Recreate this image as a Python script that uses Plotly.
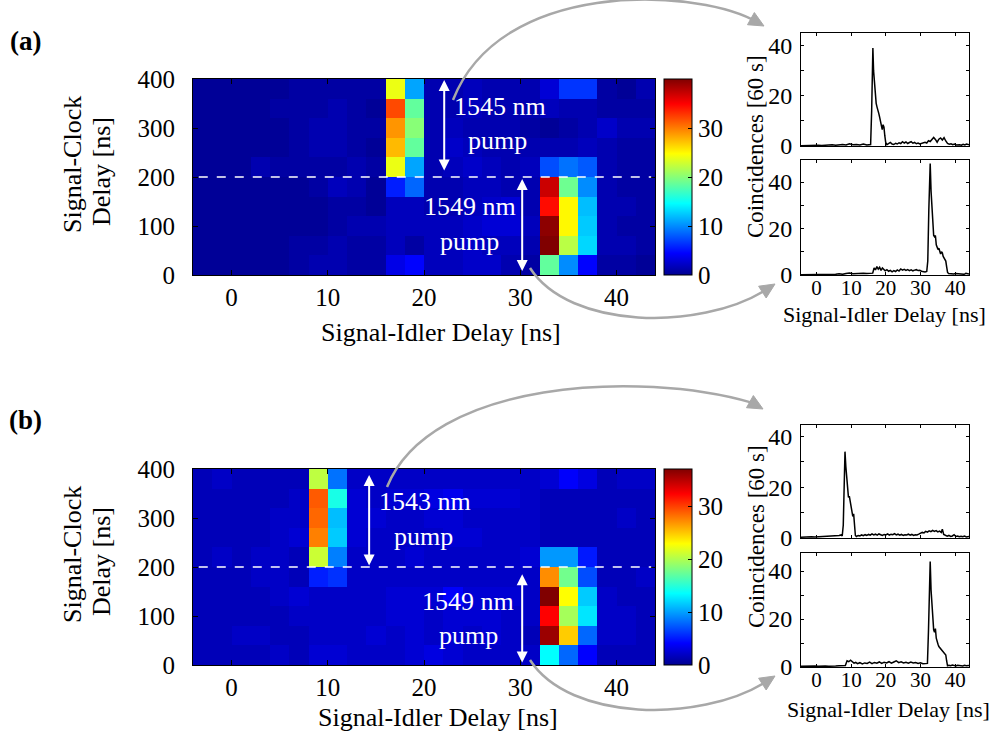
import plotly.graph_objects as go

W, H = 994, 740
FONT = "Liberation Serif, Times New Roman, serif"


def px(x):
    return x / W


def py(y):
    return 1 - y / H


# ---------------- data ----------------
# heatmap bins (ns)
si_bins = [-3, -1, 1, 3, 5, 7, 9, 11, 13, 15, 17, 19, 21, 23, 25, 27, 29, 31, 33, 35, 37, 39, 41, 43]
sc_bins = [380, 340, 300, 260, 220, 180, 140, 100, 60, 20]

counts_a = [
    [0.3, 0.3, 0.3, 0.3, 0.3, 0.8, 0.8, 0.8, 0.8, 0.8, 24, 11, 1.3, 1.3, 1.8, 1.3, 1.3, 1.3, 2.8, 6.5, 6.5, 0.8, 0.3, 1.3],
    [0.3, 0.3, 0.3, 0.3, 0.8, 0.8, 0.8, 1.3, 0.8, 0.3, 32, 18.5, 1.3, 1.3, 1.8, 1.3, 1.3, 1.3, 1.8, 1.3, 1.3, 0.8, 0.8, 0.8],
    [0.3, 0.3, 0.3, 0.3, 0.3, 0.8, 1.3, 1.3, 0.8, 0.8, 29, 20, 1.3, 1.8, 1.3, 1.3, 1.3, 0.8, 0.3, 0.8, 1.3, 2.3, 1.3, 1.3],
    [0.3, 0.3, 0.3, 0.3, 0.3, 0.8, 1.3, 1.3, 0.8, 0.3, 27.5, 18.5, 1.3, 2.3, 1.8, 1.3, 1.3, 1.3, 1.3, 1.3, 1.8, 1.3, 0.8, 0.8],
    [0.3, 0.3, 0.3, 1.3, 0.8, 0.8, 0.8, 0.8, 1.3, 0.8, 24, 11, 1.3, 1.8, 2.3, 1.8, 1.3, 1.8, 7.5, 9, 8, 1.3, 0.8, 0.8],
    [0.3, 0.3, 0.3, 0.3, 0.3, 0.3, 0.8, 1.8, 1.3, 0.3, 5.6, 8.5, 1.3, 1.3, 1.8, 1.8, 1.3, 1.3, 37, 19, 10, 1.3, 0.8, 0.8],
    [0.3, 0.3, 0.3, 0.3, 0.3, 0.3, 0.3, 0.8, 0.8, 0.3, 1.8, 1.8, 1.3, 1.3, 1.8, 2.3, 2.8, 1.3, 34.5, 25, 12, 1.3, 1.3, 0.8],
    [0.3, 0.3, 0.3, 0.3, 0.3, 0.3, 0.3, 0.8, 1.3, 1.3, 1.8, 1.8, 1.8, 1.8, 2.3, 2.8, 2.8, 1.8, 39.5, 25, 12.5, 1.3, 0.8, 0.8],
    [0.3, 0.3, 0.3, 0.3, 0.3, 0.8, 0.8, 1.3, 0.8, 0.8, 1.8, 0.8, 1.8, 1.8, 2.3, 1.8, 1.8, 1.3, 40, 22, 13, 1.3, 1.3, 0.8],
    [0.3, 0.3, 0.3, 0.3, 0.3, 0.8, 1.3, 1.3, 0.8, 0.8, 3.5, 4.5, 1.8, 1.8, 2.3, 2.3, 1.3, 0.8, 18.5, 10, 4.5, 0.8, 0.8, 0.3],
]

counts_b = [
    [1.5, 2, 1.5, 1.5, 1.5, 1.5, 20.5, 8.3, 2, 2, 2, 2, 2, 2, 2, 2, 2, 2, 2.5, 4, 3, 1.5, 2, 2],
    [1.5, 1.5, 1.5, 1.5, 1.5, 2, 29, 14.4, 2.5, 2, 2.5, 2.5, 3, 3.5, 2.5, 2.5, 2.5, 2, 1.5, 1.5, 1.5, 1.5, 1.5, 1.5],
    [1.5, 1.5, 1.5, 1.5, 2, 2, 28.5, 11.1, 2.5, 2.5, 2, 2, 2.5, 2.5, 2, 2, 2, 2, 1.5, 1.5, 1.5, 1.5, 2, 1.5],
    [1.5, 1.5, 1.5, 1.5, 2, 2.5, 27.6, 11.6, 2.5, 2, 2, 2, 2, 2.5, 2.5, 2, 2, 2, 1.5, 1.5, 1.5, 1.5, 1.5, 1.5],
    [1.5, 2, 1.5, 2, 2, 1.5, 21, 8.8, 2, 2, 2, 2.5, 2, 2, 2, 2, 2, 2.5, 9.7, 9.7, 5, 1.5, 1.5, 1.5],
    [1.5, 1.5, 1.5, 2, 2, 1.5, 5.2, 5.9, 2, 2, 2, 2, 2, 2, 2, 2, 2, 2, 27.1, 17.7, 6.9, 1.5, 1.5, 2],
    [1.5, 1.5, 1.5, 1.5, 2, 2.5, 2, 2, 2, 2, 2.5, 2.5, 2.5, 4, 2.5, 2.5, 2.5, 2, 37, 22.9, 11.6, 2, 1.5, 1.5],
    [1.5, 1.5, 1.5, 1.5, 1.5, 2, 2, 2, 2, 2, 2.5, 2.5, 2, 2.5, 2.5, 2.5, 2, 2, 32.3, 19.6, 12.6, 2, 2, 1.5],
    [1.5, 1.5, 2, 2, 1.5, 1.5, 2, 2, 2, 2.5, 2, 2.5, 2, 2.5, 2, 2.5, 2, 1.5, 36, 24.8, 7.9, 2, 2, 1.5],
    [1.5, 1.5, 1.5, 1.5, 2, 1.5, 2.5, 2.5, 2, 2, 2, 2.5, 3, 2.5, 2, 2, 2, 2, 13.5, 7.9, 4.1, 1.5, 1.5, 1.5],
]

# histograms (coincidences per 60 s vs signal-idler delay)
a_top_x = [-4.5, -3.5, -2.5, -1.5, -0.5, 0.5, 1.5, 2.5, 3.5, 4.5,
           5.5, 6.5, 7.5, 8.5, 9.5, 10.5, 11.5, 12.5, 13.5, 14.5,
           15.2, 15.6, 15.9, 16.1, 16.25, 16.45, 16.7, 16.95, 17.2, 17.45,
           17.7, 17.95, 18.2, 18.45, 18.7, 18.95, 19.2, 19.45, 19.7, 19.95,
           20.3, 20.8, 21.3, 21.8, 22.3, 22.8, 23.3, 23.8, 24.3, 24.8,
           25.3, 25.8, 26.3, 26.8, 27.3, 27.8, 28.3, 28.8, 29.3, 29.8,
           30.3, 30.8, 31.3, 31.8, 32.3, 32.8, 33.3, 33.8, 34.3, 34.8,
           35.3, 35.8, 36.3, 36.8, 37.3, 37.8, 38.3, 38.8, 39.3, 39.8,
           40.3, 40.8, 41.3, 41.8, 42.3, 42.8, 43.3, 44.0]
a_top_y = [0.1, 0.2, 0.1, 0.3, 0.2, 0.3, 0.2, 0.4, 0.3, 0.5,
           0.3, 0.4, 0.6, 0.4, 0.9, 0.5, 0.6, 0.4, 0.8, 0.4,
           0.5, 0.6, 14, 32, 39, 30, 25, 21, 17, 15.5,
           14.5, 13, 11.5, 10, 8, 6.5, 8.5, 7.5, 4, 1.5,
           0.5, 0.8, 1.4, 0.8, 0.6, 1.1, 0.8, 1.3, 1.0, 1.7,
           1.2, 1.6, 1.0, 1.4, 1.7, 1.1, 1.4, 0.9, 1.2, 0.8,
           1.0, 1.3, 1.5, 1.2, 2.1, 1.8, 2.8, 3.4, 2.6, 1.5,
           2.7, 3.2, 2.4, 3.3, 2.0, 1.0, 0.7, 0.9, 0.5, 0.8,
           0.4, 0.6, 0.5, 0.3, 0.7, 0.4, 0.8, 0.5]

a_bot_x = [-4.5, -3.5, -2.5, -1.5, -0.5, 0.5, 1.5, 2.5, 3.5, 4.5,
           5.5, 6.5, 7.5, 8.5, 9.5, 10.5, 11.5, 12.5, 13.5, 14.5,
           15.5, 16.2, 16.6, 17.0, 17.4, 17.8, 18.2, 18.6, 19.0, 19.4,
           19.8, 20.3, 20.8, 21.3, 21.8, 22.3, 22.8, 23.3, 23.8, 24.3,
           24.8, 25.3, 25.8, 26.3, 26.8, 27.3, 27.8, 28.3, 28.8, 29.3,
           29.8, 30.3, 30.8, 31.3, 31.8, 32.1, 32.4, 32.6, 32.8, 33.05,
           33.3, 33.55, 33.8, 34.05, 34.3, 34.55, 34.8, 35.05, 35.3, 35.55,
           35.8, 36.05, 36.3, 36.55, 36.8, 37.05, 37.3, 37.55, 37.8, 38.1,
           38.6, 39.1, 39.6, 40.1, 40.6, 41.1, 41.6, 42.1, 42.6, 43.1, 44.0]
a_bot_y = [0.1, 0.1, 0.2, 0.1, 0.2, 0.3, 0.2, 0.3, 0.2, 0.4,
           0.3, 0.5, 0.3, 0.6, 0.9, 0.5, 0.7, 0.6, 0.8, 0.6,
           0.7, 0.8, 3.0, 2.2, 3.6, 2.5, 3.3, 2.0, 3.0, 2.4,
           1.8, 2.3, 1.6, 2.0, 1.4, 1.9, 1.5, 2.2, 1.7, 2.6,
           2.1, 2.4, 2.0, 2.3, 1.9, 2.2, 1.8, 2.1, 2.3, 1.9,
           2.0, 1.6, 1.4, 1.3, 1.5, 6, 28, 42, 48, 36,
           28, 22, 17, 16.5, 17, 13, 12, 11, 11.5, 9.5,
           9, 10, 9.5, 8, 7.5, 6.5, 6, 3.5, 1.2, 0.6,
           0.5, 0.7, 0.4, 0.6, 0.5, 0.4, 0.6, 0.5, 0.3, 0.7, 0.4]

b_top_x = [-4.5, -3.5, -2.5, -1.5, -0.5, 0.5, 1.5, 2.5, 3.5, 4.5,
           5.5, 6.5, 7.1, 7.4, 7.7, 7.95, 8.2, 8.45, 8.7, 8.95,
           9.2, 9.45, 9.7, 9.95, 10.2, 10.45, 10.7, 10.95, 11.2, 11.5,
           12.0, 12.5, 13.0, 13.5, 14.0, 14.5, 15.0, 15.5, 16.0, 16.5,
           17.0, 17.5, 18.0, 18.5, 19.0, 19.5, 20.0, 20.5, 21.0, 21.5,
           22.0, 22.5, 23.0, 23.5, 24.0, 24.5, 25.0, 25.5, 26.0, 26.5,
           27.0, 27.5, 28.0, 28.5, 29.0, 29.5, 30.0, 30.5, 31.0, 31.5,
           32.0, 32.5, 33.0, 33.5, 34.0, 34.5, 35.0, 35.5, 36.0, 36.3,
           36.7, 37.2, 37.7, 38.2, 38.7, 39.2, 39.7, 40.2, 40.7, 41.2,
           41.7, 42.2, 42.7, 43.2, 44.0]
b_top_y = [0.3, 0.4, 0.3, 0.5, 0.4, 0.5, 0.4, 0.6, 0.5, 0.7,
           0.8, 1.0, 1.2, 0.8, 5, 24, 34, 28, 23, 19,
           16, 16.5, 14.5, 12.5, 11, 8.5, 9.5, 4, 1.0, 0.6,
           1.0, 0.8, 1.2, 0.9, 1.3, 1.0, 1.4, 1.1, 1.6, 1.2,
           1.5, 1.1, 1.6, 1.3, 1.0, 1.4, 1.2, 1.6, 1.1, 1.5,
           1.3, 1.7, 1.2, 1.5, 1.1, 1.4, 1.0, 1.3, 1.2, 1.5,
           1.1, 1.4, 1.0, 1.3, 1.2, 1.5, 1.8, 2.2, 2.0, 2.6,
           2.3, 2.8, 2.5, 3.0, 2.6, 2.9, 2.4, 2.7, 2.2, 3.5,
           1.4, 0.9, 0.7, 1.0, 0.6, 0.8, 1.3, 0.6, 0.8, 0.5,
           0.7, 0.5, 0.8, 0.4, 0.6]

b_bot_x = [-4.5, -3.5, -2.5, -1.5, -0.5, 0.5, 1.5, 2.5, 3.5, 4.5,
           5.5, 6.5, 7.5, 8.3, 8.8, 9.3, 9.8, 10.3, 10.8, 11.3,
           11.8, 12.5, 13.2, 13.9, 14.6, 15.3, 16.0, 16.7, 17.4, 18.1,
           18.8, 19.5, 20.2, 20.9, 21.6, 22.3, 23.0, 23.7, 24.4, 25.1,
           25.8, 26.5, 27.2, 27.9, 28.6, 29.3, 30.0, 30.7, 31.4, 32.0,
           32.3, 32.55, 32.8, 33.05, 33.3, 33.55, 33.8, 34.05, 34.3, 34.55,
           34.8, 35.05, 35.3, 35.55, 35.8, 36.05, 36.3, 36.55, 36.8, 37.05,
           37.3, 37.55, 37.8, 38.2, 38.7, 39.2, 39.7, 40.2, 40.7, 41.2,
           41.7, 42.2, 42.7, 43.2, 44.0]
b_bot_y = [0.3, 0.4, 0.3, 0.5, 0.4, 0.3, 0.5, 0.4, 0.3, 0.5,
           0.4, 0.5, 0.4, 0.6, 2.6, 2.2, 2.8, 2.3, 1.6, 1.9,
           1.4, 1.8, 1.3, 1.7, 1.5, 2.0, 1.4, 1.9, 1.6, 2.1,
           1.5, 2.0, 1.7, 2.2, 1.6, 2.1, 2.6, 1.8, 2.2, 1.7,
           2.0, 1.6, 2.1, 1.7, 1.9, 1.5, 1.8, 1.4, 1.6, 1.5,
           15, 36, 44, 32, 25, 21, 15.5, 14.5, 16, 12,
           10, 9.5, 8.5, 8, 7.5, 7, 7, 6.5, 6, 5.5,
           5, 2.5, 0.5, 0.7, 0.5, 0.8, 0.6, 0.4, 0.7, 0.5,
           0.6, 0.4, 0.7, 0.5, 0.6]

heat_ticks_x = [0, 10, 20, 30, 40]
heat_ticks_y = [0, 100, 200, 300, 400]
cbar_ticks = [0, 10, 20, 30]
hist_ticks_y = [0, 10, 20, 30, 40]
hist_ticktext_y = ["0", "", "20", "", "40"]

# MATLAB "jet" (64 levels) anchor colours
JET = [
    [0.0, "rgb(0,0,143)"],
    [0.111, "rgb(0,0,255)"],
    [0.365, "rgb(0,255,255)"],
    [0.619, "rgb(255,255,0)"],
    [0.873, "rgb(255,0,0)"],
    [1.0, "rgb(128,0,0)"],
]

# ---------------- geometry (pixels) ----------------
HX = (193, 655)
HA_Y = (79, 275)
HB_Y = (469, 665)
SX = (801, 969)
SA1_Y = (33, 146)
SA2_Y = (160, 275)
SB1_Y = (425, 538)
SB2_Y = (553, 667)


def dom_x(p):
    return [px(p[0]), px(p[1])]


def dom_y(p):
    return [py(p[1]), py(p[0])]


fig = go.Figure()


def cbar(ypix):
    return dict(
        x=px(664), xanchor="left", xpad=0,
        y=py((ypix[0] + ypix[1]) / 2), yanchor="middle", ypad=0,
        lenmode="pixels", len=ypix[1] - ypix[0],
        thicknessmode="pixels", thickness=28,
        outlinecolor="black", outlinewidth=1,
        tickvals=cbar_ticks, ticks="inside", ticklen=4, tickcolor="black",
        tickfont=dict(family=FONT, size=25, color="black"),
    )


fig.add_trace(go.Heatmap(
    x=si_bins, y=sc_bins, z=counts_a, colorscale=JET, zmin=0, zmax=40,
    xaxis="x", yaxis="y", colorbar=cbar(HA_Y), hoverinfo="skip"))
fig.add_trace(go.Heatmap(
    x=si_bins, y=sc_bins, z=counts_b, colorscale=JET, zmin=0, zmax=37,
    xaxis="x2", yaxis="y2", colorbar=cbar(HB_Y), hoverinfo="skip"))

for xs, ys, ax in [(a_top_x, a_top_y, "3"), (a_bot_x, a_bot_y, "4"),
                   (b_top_x, b_top_y, "5"), (b_bot_x, b_bot_y, "6")]:
    fig.add_trace(go.Scatter(x=xs, y=ys, mode="lines",
                             line=dict(color="black", width=1.5),
                             xaxis="x" + ax, yaxis="y" + ax, showlegend=False,
                             hoverinfo="skip"))

axcommon = dict(showline=True, linecolor="black", linewidth=1, mirror="ticks",
                ticks="inside", ticklen=5, tickcolor="black", showgrid=False,
                zeroline=False, tickfont=dict(family=FONT, size=25, color="black"),
                automargin=False)

layout = dict(
    width=W, height=H, margin=dict(l=0, r=0, t=0, b=0),
    paper_bgcolor="white", plot_bgcolor="white", showlegend=False,
    font=dict(family=FONT, color="black"),
)

# heatmap axes
for i, yp in [("", HA_Y), ("2", HB_Y)]:
    layout["xaxis" + i] = dict(axcommon, domain=dom_x(HX), anchor="y" + i,
                               range=[-4, 44], tickvals=heat_ticks_x,
                               ticklabelstandoff=0)
    layout["yaxis" + i] = dict(axcommon, domain=dom_y(yp), anchor="x" + i,
                               range=[0, 400], tickvals=heat_ticks_y,
                               ticklabelstandoff=12)

# histogram axes
hist_specs = [("3", SA1_Y, 45, False), ("4", SA2_Y, 49.5, True),
              ("5", SB1_Y, 44.5, False), ("6", SB2_Y, 47.5, True)]
for i, yp, ymax, showx in hist_specs:
    layout["xaxis" + i] = dict(axcommon, domain=dom_x(SX), anchor="y" + i,
                               range=[-4.5, 44], tickvals=heat_ticks_x,
                               showticklabels=showx, ticklen=3,
                               tickfont=dict(family=FONT, size=21, color="black"),
                               ticklabelstandoff=-6)
    layout["yaxis" + i] = dict(axcommon, domain=dom_y(yp), anchor="x" + i,
                               range=[0, ymax], tickvals=hist_ticks_y,
                               ticktext=hist_ticktext_y, ticklen=3,
                               tickfont=dict(family=FONT, size=24, color="black"),
                               ticklabelstandoff=3)

fig.update_layout(**layout)

# ---------------- annotations ----------------
ann = []


def text_px(x, y, t, size=26, color="black", angle=0, bold=False):
    ann.append(dict(x=px(x), y=py(y), xref="paper", yref="paper",
                    text=("<b>%s</b>" % t) if bold else t, showarrow=False,
                    textangle=angle, xanchor="center", yanchor="middle",
                    font=dict(family=FONT, size=size, color=color)))


text_px(25, 41, "(a)", size=27, bold=True)
text_px(25, 420, "(b)", size=27, bold=True)

for yoff in (0, 390):
    text_px(72, 165 + yoff, "Signal-Clock", angle=-90)
    text_px(101, 172 + yoff, "Delay [ns]", angle=-90)
    text_px(756, 147 + yoff, "Coincidences [60 s]", size=23, angle=-90)

text_px(441, 333, "Signal-Idler Delay [ns]")
text_px(438, 717, "Signal-Idler Delay [ns]")
text_px(884, 314, "Signal-Idler Delay [ns]", size=22)
text_px(888, 709, "Signal-Idler Delay [ns]", size=22)

text_px(500, 107, "1545 nm", color="white")
text_px(498, 141, "pump", color="white")
text_px(470, 206, "1549 nm", color="white")
text_px(469, 241, "pump", color="white")
text_px(425, 502, "1543 nm", color="white")
text_px(423, 536, "pump", color="white")
text_px(468, 601, "1549 nm", color="white")
text_px(468, 635, "pump", color="white")

# white double arrows (data coordinates of heatmaps)
for xr, yr, x0, y0, y1 in [("x", "y", 22.1, 210, 398), ("x", "y", 30.2, 5, 196),
                           ("x2", "y2", 14.3, 200, 388), ("x2", "y2", 30.2, 2, 185)]:
    ann.append(dict(x=x0, y=y1, ax=x0, ay=y0, xref=xr, yref=yr, axref=xr, ayref=yr,
                    text="", showarrow=True, arrowhead=2, arrowside="end+start",
                    arrowsize=1.1, arrowwidth=2, arrowcolor="white",
                    standoff=0, startstandoff=0))

fig.update_layout(annotations=ann)

# ---------------- gray curved arrows ----------------
GRAY = "rgb(168,168,168)"
shapes = []


def P(x, y):
    return "%.5f,%.5f" % (px(x), py(y))


def curve_arrow(start, c1, c2, tip, d):
    n = (d[0] ** 2 + d[1] ** 2) ** 0.5
    ux, uy = d[0] / n, d[1] / n
    L, Wd = 15, 7
    bx, by = tip[0] - L * ux, tip[1] - L * uy
    shapes.append(dict(type="path", xref="paper", yref="paper",
                       path="M %s C %s %s %s" % (P(*start), P(*c1), P(*c2), P(bx + 2 * ux, by + 2 * uy)),
                       line=dict(color=GRAY, width=2.5)))
    q1 = (bx - Wd * uy, by + Wd * ux)
    q2 = (bx + Wd * uy, by - Wd * ux)
    shapes.append(dict(type="path", xref="paper", yref="paper",
                       path="M %s L %s L %s Z" % (P(*tip), P(*q1), P(*q2)),
                       fillcolor=GRAY, line=dict(color=GRAY, width=1)))


curve_arrow((453, 100), (500, -20), (690, -12), (764, 26), (0.87, 0.49))
curve_arrow((530, 268), (570, 330), (700, 330), (775, 284), (0.84, -0.54))
curve_arrow((387, 487), (430, 380), (640, 370), (763, 409), (0.87, 0.49))
curve_arrow((530, 660), (570, 722), (700, 722), (775, 676), (0.84, -0.54))

# dashed separators at 200 ns
for xr, yr in [("x", "y"), ("x2", "y2")]:
    shapes.append(dict(type="line", xref=xr, yref=yr, x0=-3.4, x1=43.6, y0=200, y1=200,
                       line=dict(color="white", width=1.5, dash="dash")))

fig.update_layout(shapes=shapes)

# remove the browser's default 8px body margin so the figure sits at the page origin
fig.write_html("out.html", config={"displayModeBar": False},
               post_script="document.body.style.margin='0';document.body.style.overflow='hidden';")
